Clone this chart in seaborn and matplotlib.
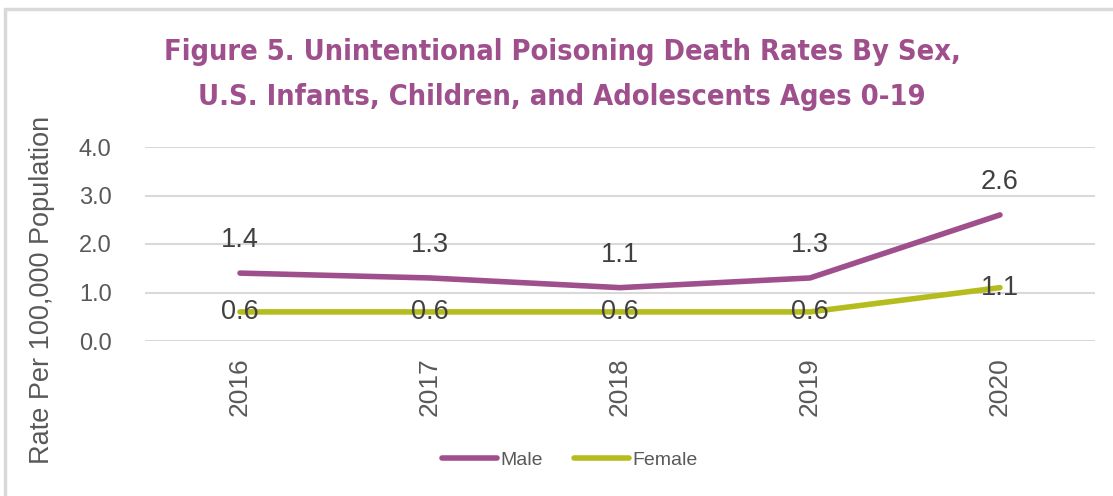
import matplotlib
matplotlib.use("Agg")
import matplotlib.pyplot as plt
from matplotlib import font_manager
from matplotlib.patches import Rectangle
import seaborn as sns
import pandas as pd

years = ["2016", "2017", "2018", "2019", "2020"]
male = [1.4, 1.3, 1.1, 1.3, 2.6]
female = [0.6, 0.6, 0.6, 0.6, 1.1]
y_ticks = [0.0, 1.0, 2.0, 3.0, 4.0]

MALE_C = "#9E4F8C"
FEMALE_C = "#B5BD1E"
TEXT_C = "#404040"
AXIS_C = "#595959"

df = pd.DataFrame({
    "Year": years * 2,
    "Rate": male + female,
    "Sex": ["Male"] * len(years) + ["Female"] * len(years),
})

# pick a narrow bold face for the heading if one is installed
narrow = None
for f in font_manager.fontManager.ttflist:
    if ("Narrow" in f.name or "Condensed" in f.name
            or f.stretch in ("condensed", "semi-condensed", 600, 500)
            or "Condensed" in f.fname or "Narrow" in f.fname):
        narrow = f
        if f.weight in ("bold", 700):
            break

sns.set_theme(style="white")
plt.rcParams["font.family"] = ["Liberation Sans", "DejaVu Sans"]

fig = plt.figure(figsize=(11.13, 4.96), dpi=100)
ax = fig.add_axes([145 / 1113, 1 - 341 / 496, 950 / 1113, (341 - 147) / 496])

sns.lineplot(data=df, x="Year", y="Rate", hue="Sex",
             palette={"Male": MALE_C, "Female": FEMALE_C},
             linewidth=4, ax=ax, legend=False, sort=False)
for line in ax.lines:
    line.set_solid_capstyle("round")
    line.set_solid_joinstyle("round")

ax.set_xlim(-0.5, len(years) - 0.5)
ax.set_ylim(0, 4.0)
ax.set_yticks(y_ticks)
ax.set_yticklabels([f"{v:.1f}" for v in y_ticks], fontsize=17, color=AXIS_C)
ax.set_xticks(range(len(years)))
ax.set_xticklabels(years, rotation=90, fontsize=19, color=AXIS_C)
ax.tick_params(axis="y", length=0, pad=24)
ax.tick_params(axis="x", length=0, pad=12)
ax.yaxis.grid(True, color="#D9D9D9", linewidth=1.5)
ax.set_axisbelow(True)
for s in ax.spines.values():
    s.set_visible(False)
ax.set_xlabel("")
ax.set_ylabel("Rate Per 100,000 Population", fontsize=19.5, color=AXIS_C)
ax.yaxis.set_label_coords(-90 / 950, (341 - 290) / 194)

# value labels: male above its line, female centred on its line
for i, v in enumerate(male):
    ax.annotate(f"{v:.1f}", (i, v), xytext=(0, 33), textcoords="offset pixels",
                ha="center", va="center", fontsize=19.5, color=TEXT_C)
for i, v in enumerate(female):
    ax.annotate(f"{v:.1f}", (i, v), xytext=(0, 0), textcoords="offset pixels",
                ha="center", va="center", fontsize=19.5, color=TEXT_C)

title_kw = dict(ha="center", va="center", color=MALE_C)
if narrow is not None:
    title_kw["fontproperties"] = font_manager.FontProperties(fname=narrow.fname, size=20.8)
else:
    title_kw.update(family=["DejaVu Sans"], fontstretch="condensed",
                    fontsize=20, fontweight="bold")
fig.text(562 / 1113, 1 - 52 / 496, "Figure 5. Unintentional Poisoning Death Rates By Sex,", **title_kw)
fig.text(562 / 1113, 1 - 97 / 496, "U.S. Infants, Children, and Adolescents Ages 0-19", **title_kw)

handles = [plt.Line2D([], [], color=MALE_C, lw=4, solid_capstyle="round"),
           plt.Line2D([], [], color=FEMALE_C, lw=4, solid_capstyle="round")]
fig.legend(handles, ["Male", "Female"], loc="center", bbox_to_anchor=(570 / 1113, 1 - 460 / 496),
           ncol=2, frameon=False, fontsize=14, handlelength=2.8, handletextpad=0.2,
           columnspacing=1.6, labelcolor=AXIS_C)

fig.patches.append(Rectangle((5 / 1113, -0.1), 1.2, 1 - 9 / 496 + 0.1, transform=fig.transFigure,
                             fill=False, edgecolor="#D9D9D9", linewidth=2.5))

fig.savefig("out.png", dpi=100)
